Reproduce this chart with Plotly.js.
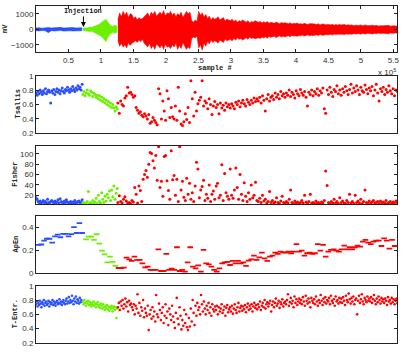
<!DOCTYPE html>
<html>
<head>
<meta charset="utf-8">
<script src="https://cdn.plot.ly/plotly-3.0.1.min.js"></script>
<style>
body { margin: 0; background: #fff; }
#chart { width: 415px; height: 355px; }
</style>
</head>
<body>
<div id="chart"></div>
<script>
// sample ranges of the three phases: baseline, injection, seizure
var phaseStart = [0, 72000, 126000];
var phaseEnd = [71000, 125000, 556000];
// ApEn windows are wider, so they start/end a little inside
var apStart = [4000, 77000, 127000];
var apEnd = [71000, 122000, 552000];

var xTickVals = [50000, 100000, 150000, 200000, 250000, 300000, 350000, 400000, 450000, 500000, 550000];
var xTickText = ['0.5', '1', '1.5', '2', '2.5', '3', '3.5', '4', '4.5', '5', '5.5'];

// raw EEG, upper and lower envelope (mV)
var sigBlueHi = [80, 100, 70, 90, 110, 80, 100, 90, 120, 80, 100, 90, 110, 85, 100, 95];
var sigBlueLo = [-90, -110, -80, -100, -220, -90, -110, -100, -80, -120, -90, -100, -110, -85, -100, -90];
var sigGreenHi = [60, 100, 80, 150, 120, 200, 250, 300, 400, 500, 650, 450, 250, 180, 250, 200];
var sigGreenLo = [-70, -100, -90, -150, -130, -200, -260, -350, -450, -600, -800, -500, -300, -200, -250, -200];
var sigRedHi = [
    600, 1050, 800, 1150, 900, 1100, 750, 1000,
    950, 700, 800, 600, 750, 650, 700, 800,
    900, 1050, 800, 1100, 950, 1150, 850, 1000,
    1100, 950, 1200, 850, 1050, 1000, 1150, 900,
    1050, 800, 1000, 900, 1100, 750, 950, 1150,
    1000, 1100, 550, 450, 600, 500, 1150, 900,
    1050, 800, 950, 700, 850, 600, 750, 650,
    700, 800, 600, 650, 750, 550, 650, 600,
    550, 650, 500, 600, 450, 550, 500, 600,
    500, 450, 550, 400, 500, 450, 550, 480,
    450, 500, 400, 480, 420, 500, 380, 450,
    420, 380, 460, 400, 350, 430, 390, 420,
    400, 350, 420, 330, 380, 360, 400, 340,
    360, 320, 380, 340, 300, 360, 330, 350,
    330, 300, 350, 280, 320, 340, 290, 310,
    300, 280, 320, 260, 300, 270, 310, 280,
    280, 300, 250, 290, 260, 280, 240, 270,
    260, 240, 280, 230, 250, 270, 220, 250,
    240, 260, 220, 250, 210, 240, 230, 220,
    230, 210, 250, 200, 230, 220, 210, 200];
var sigRedLo = [
    -700, -1100, -900, -1150, -1000, -1200, -850, -1050,
    -900, -800, -750, -850, -700, -800, -650, -900,
    -1000, -1150, -900, -1250, -1050, -1300, -950, -1100,
    -1200, -1000, -1300, -950, -1150, -1100, -1250, -1000,
    -1150, -900, -1300, -1050, -1250, -850, -1100, -1300,
    -1150, -1250, -600, -500, -550, -450, -1200, -1000,
    -1350, -900, -1100, -800, -950, -700, -850, -750,
    -800, -900, -700, -750, -850, -650, -750, -700,
    -650, -750, -600, -700, -550, -650, -600, -700,
    -600, -550, -650, -500, -600, -550, -620, -560,
    -550, -600, -500, -560, -480, -580, -450, -520,
    -500, -450, -540, -460, -420, -500, -450, -480,
    -460, -420, -480, -400, -440, -420, -460, -400,
    -420, -380, -440, -400, -360, -420, -390, -410,
    -380, -360, -400, -340, -370, -390, -350, -360,
    -350, -330, -370, -310, -340, -320, -350, -330,
    -320, -340, -300, -330, -300, -320, -290, -310,
    -300, -280, -320, -270, -290, -310, -260, -290,
    -280, -300, -260, -290, -250, -280, -270, -260,
    -270, -250, -290, -240, -270, -260, -250, -240];

// Tsallis entropy
var tsBlue = [0.76, 0.73, 0.78, 0.75, 0.80, 0.77, 0.74, 0.79, 0.76, 0.82, 0.75, 0.78, 0.80, 0.77, 0.62,
    0.79, 0.76, 0.81, 0.74, 0.78, 0.82, 0.77, 0.80, 0.75, 0.79, 0.83, 0.78, 0.76, 0.81, 0.79,
    0.84, 0.80, 0.77, 0.82, 0.79, 0.85, 0.81, 0.78, 0.83, 0.80, 0.86, 0.82, 0.84, 0.80, 0.88];
var tsGreen = [0.74, 0.78, 0.72, 0.76, 0.80, 0.75, 0.73, 0.79, 0.77, 0.71, 0.76, 0.74, 0.70, 0.73, 0.68,
    0.72, 0.66, 0.70, 0.64, 0.68, 0.62, 0.66, 0.60, 0.64, 0.58, 0.62, 0.56, 0.60, 0.55, 0.51, 0.57, 0.54];
var tsRed = [0.62, 0.48, 0.65, 0.60, 0.58, 0.69, 0.72, 0.84, 0.76, 0.77,
    0.74, 0.70, 0.72, 0.56, 0.52, 0.48, 0.50, 0.45, 0.43, 0.47,
    0.44, 0.40, 0.46, 0.34, 0.36, 0.42, 0.38, 0.35, 0.32, 0.82,
    0.75, 0.40, 0.65, 0.51, 0.38, 0.79, 0.68, 0.42, 0.56, 0.43,
    0.40, 0.58, 0.38, 0.84, 0.51, 0.33, 0.31, 0.36, 0.47, 0.39,
    0.56, 0.35, 0.93, 0.68, 0.44, 0.77, 0.51, 0.61, 0.66, 0.70,
    0.93, 0.58, 0.65, 0.62, 0.54, 0.68, 0.60, 0.46, 0.58, 0.64,
    0.56, 0.60, 0.47, 0.62, 0.55, 0.59, 0.52, 0.62, 0.57, 0.60,
    0.55, 0.61, 0.58, 0.54, 0.63, 0.60, 0.65, 0.57, 0.62, 0.66,
    0.61, 0.58, 0.67, 0.63, 0.60, 0.66, 0.62, 0.69, 0.64, 0.68,
    0.65, 0.70, 0.62, 0.72, 0.66, 0.51, 0.68, 0.74, 0.65, 0.70,
    0.72, 0.67, 0.76, 0.70, 0.74, 0.68, 0.78, 0.72, 0.75, 0.70,
    0.76, 0.73, 0.80, 0.71, 0.77, 0.74, 0.69, 0.79, 0.75, 0.72,
    0.81, 0.76, 0.73, 0.78, 0.70, 0.58, 0.77, 0.74, 0.80, 0.72,
    0.78, 0.75, 0.82, 0.73, 0.79, 0.76, 0.83, 0.54, 0.48, 0.80,
    0.74, 0.84, 0.77, 0.71, 0.81, 0.78, 0.86, 0.75, 0.80, 0.73,
    0.82, 0.77, 0.85, 0.79, 0.74, 0.81, 0.88, 0.76, 0.83, 0.78,
    0.86, 0.80, 0.74, 0.84, 0.79, 0.77, 0.87, 0.81, 0.75, 0.83,
    0.79, 0.85, 0.72, 0.80, 0.88, 0.76, 0.65, 0.82, 0.78, 0.84,
    0.74, 0.81, 0.77, 0.86, 0.79, 0.75, 0.82, 0.72, 0.80, 0.78];

// Fisher information
var fiBlue = [15, 12, 8, 6, 9, 5, 7, 10, 6, 8, 5, 12, 6, 5, 8, 10, 7, 5, 9, 6, 7, 11, 5, 13, 8,
    6, 5, 9, 6, 11, 7, 6, 5, 8, 5, 7, 6, 10, 5, 6, 8, 9, 5, 7, 11];
var fiGreen = [4, 6, 3, 5, 8, 27, 4, 6, 3, 10, 5, 7, 14, 4, 20, 8, 5, 25, 12, 6, 18, 9, 22, 15,
    28, 10, 30, 17, 38, 12, 24, 33];
var fiRed = [6, 19, 8, 5, 12, 17, 9, 5, 6, 4,
    10, 7, 35, 22, 5, 38, 29, 8, 51, 60,
    68, 55, 80, 103, 101, 87, 73, 97, 49, 114,
    35, 47, 18, 95, 97, 48, 29, 12, 106, 50,
    58, 20, 51, 8, 114, 30, 47, 16, 10, 53,
    22, 43, 12, 25, 8, 38, 84, 71, 15, 30,
    37, 49, 10, 22, 14, 40, 8, 22, 28, 12,
    38, 43, 15, 20, 79, 10, 62, 25, 18, 12,
    71, 20, 14, 30, 73, 35, 12, 60, 22, 10,
    44, 18, 8, 25, 12, 40, 15, 20, 45, 10,
    8, 14, 6, 20, 9, 12, 5, 8, 27, 6,
    10, 5, 7, 15, 6, 4, 9, 18, 6, 5,
    8, 5, 12, 30, 6, 4, 9, 5, 7, 4,
    6, 10, 5, 20, 7, 4, 8, 22, 5, 6,
    4, 9, 5, 6, 4, 7, 5, 10, 67, 39,
    6, 4, 8, 5, 12, 5, 8, 4, 15, 6,
    9, 5, 4, 10, 6, 22, 5, 8, 4, 20,
    6, 9, 5, 12, 4, 8, 30, 6, 5, 9,
    4, 7, 10, 5, 6, 8, 4, 9, 5, 7,
    5, 10, 4, 6, 8, 4, 7, 5, 9, 6];

// approximate entropy
var apBlue = [0.246, 0.25, 0.284, 0.30, 0.30, 0.266, 0.32, 0.336, 0.313, 0.342, 0.342, 0.32, 0.34,
    0.40, 0.35, 0.435, 0.35];
var apGreen = [0.295, 0.319, 0.319, 0.29, 0.339, 0.258, 0.197, 0.165, 0.095, 0.145, 0.10, 0.064];
var apRed = [0.046, 0.046, 0.049, 0.136, 0.121, 0.107, 0.145, 0.116, 0.116, 0.087,
    0.052, 0.058, 0.029, 0.029, 0.029, 0.208, 0.020, 0.020, 0.168, 0.029,
    0.040, 0.029, 0.226, 0.020, 0.029, 0.014, 0.095, 0.226, 0.058, 0.043,
    0.069, 0.014, 0.203, 0.087, 0.078, 0.058, 0.029, 0.014, 0.043, 0.087,
    0.095, 0.100, 0.072, 0.107, 0.087, 0.107, 0.087, 0.095, 0.064, 0.110,
    0.121, 0.153, 0.116, 0.139, 0.179, 0.130, 0.107, 0.145, 0.153, 0.179,
    0.168, 0.188, 0.182, 0.179, 0.188, 0.174, 0.188, 0.254, 0.188, 0.197,
    0.153, 0.174, 0.179, 0.168, 0.174, 0.254, 0.197, 0.246, 0.145, 0.188,
    0.203, 0.208, 0.197, 0.188, 0.208, 0.240, 0.208, 0.226, 0.208, 0.226,
    0.240, 0.232, 0.275, 0.290, 0.266, 0.254, 0.275, 0.284, 0.284, 0.237,
    0.304, 0.284, 0.214, 0.290, 0.237];

// T-entropy
var teBlue = [0.74, 0.78, 0.71, 0.76, 0.73, 0.79, 0.75, 0.70, 0.77, 0.74, 0.80, 0.72, 0.76, 0.78, 0.73,
    0.75, 0.79, 0.71, 0.77, 0.74, 0.76, 0.80, 0.73, 0.78, 0.75, 0.72, 0.77, 0.79, 0.74, 0.76,
    0.81, 0.75, 0.78, 0.73, 0.77, 0.80, 0.76, 0.74, 0.79, 0.82, 0.75, 0.78, 0.84, 0.76, 0.80,
    0.77, 0.86, 0.79, 0.74, 0.82, 0.78, 0.85, 0.76, 0.81, 0.79, 0.75, 0.83, 0.77, 0.80, 0.78];
var teGreen = [0.78, 0.74, 0.80, 0.76, 0.72, 0.78, 0.75, 0.79, 0.73, 0.77, 0.74, 0.71, 0.76, 0.73, 0.78,
    0.72, 0.75, 0.70, 0.74, 0.77, 0.71, 0.73, 0.69, 0.75, 0.72, 0.68, 0.74, 0.70, 0.66, 0.72,
    0.69, 0.73, 0.67, 0.71, 0.65, 0.70, 0.68, 0.72, 0.64, 0.69, 0.71, 0.66, 0.70, 0.55, 0.68];
var teRed = [0.70, 0.76, 0.66, 0.78, 0.72, 0.80, 0.68, 0.74, 0.82, 0.71, 0.77, 0.64, 0.79, 0.73, 0.75,
    0.70, 0.66, 0.74, 0.60, 0.72, 0.68, 0.88, 0.62, 0.76, 0.58, 0.70, 0.65, 0.80, 0.56, 0.68,
    0.62, 0.58, 0.72, 0.38, 0.60, 0.66, 0.54, 0.70, 0.57, 0.64, 0.50, 0.87, 0.60, 0.56, 0.75,
    0.66, 0.52, 0.62, 0.70, 0.48, 0.58, 0.74, 0.55, 0.64, 0.45, 0.68, 0.60, 0.52, 0.72, 0.57,
    0.49, 0.41, 0.62, 0.83, 0.54, 0.46, 0.70, 0.58, 0.39, 0.52, 0.44, 0.66, 0.48, 0.60, 0.42,
    0.38, 0.55, 0.43, 0.68, 0.50, 0.80, 0.62, 0.45, 0.72, 0.58, 0.76, 0.66, 0.70, 0.60, 0.87,
    0.74, 0.64, 0.78, 0.68, 0.60, 0.72, 0.66, 0.76, 0.62, 0.70, 0.58, 0.74, 0.67, 0.64, 0.71,
    0.66, 0.72, 0.60, 0.70, 0.64, 0.68, 0.74, 0.62, 0.66, 0.71, 0.58, 0.69, 0.73, 0.63, 0.67,
    0.70, 0.64, 0.72, 0.61, 0.68, 0.74, 0.66, 0.62, 0.70, 0.76, 0.64, 0.69, 0.72, 0.65, 0.71,
    0.67, 0.73, 0.63, 0.70, 0.75, 0.66, 0.72, 0.68, 0.74, 0.64, 0.71, 0.76, 0.69, 0.73, 0.67,
    0.74, 0.70, 0.78, 0.66, 0.72, 0.76, 0.70, 0.80, 0.68, 0.74, 0.77, 0.71, 0.75, 0.79, 0.64,
    0.73, 0.78, 0.70, 0.76, 0.82, 0.72, 0.75, 0.79, 0.69, 0.77, 0.74, 0.81, 0.71, 0.76, 0.78,
    0.74, 0.80, 0.88, 0.72, 0.77, 0.83, 0.75, 0.79, 0.70, 0.85, 0.76, 0.81, 0.73, 0.78, 0.82,
    0.76, 0.80, 0.74, 0.84, 0.78, 0.72, 0.86, 0.79, 0.75, 0.82, 0.77, 0.70, 0.83, 0.79, 0.76,
    0.81, 0.74, 0.85, 0.78, 0.72, 0.80, 0.76, 0.87, 0.79, 0.73, 0.82, 0.77, 0.84, 0.75, 0.80,
    0.78, 0.83, 0.74, 0.86, 0.79, 0.76, 0.81, 0.72, 0.85, 0.78, 0.80, 0.75, 0.83, 0.77, 0.82,
    0.76, 0.84, 0.79, 0.73, 0.86, 0.80, 0.77, 0.89, 0.81, 0.75, 0.83, 0.78, 0.85, 0.74, 0.80,
    0.82, 0.60, 0.79, 0.86, 0.76, 0.81, 0.88, 0.78, 0.74, 0.83, 0.80, 0.77, 0.85, 0.79, 0.82,
    0.78, 0.84, 0.76, 0.81, 0.87, 0.79, 0.74, 0.82, 0.77, 0.85, 0.80, 0.75, 0.83, 0.78, 0.81,
    0.76, 0.82, 0.79, 0.73, 0.84, 0.78, 0.80, 0.75, 0.83, 0.77, 0.81, 0.74, 0.79, 0.82, 0.76];

var colors = ['#2a4fff', '#6cf000', '#ff0000'];

// page rows (top, bottom px) of the five panels
var rows = [[6, 52], [75.7, 133.3], [145.7, 204], [215.7, 273.3], [285.7, 343]];
var mTop = 6, mBot = 12, H = 355, W = 415, mLeft = 36, mRight = 18;
var plotH = H - mTop - mBot;

function spread(a, b, n) {
    var out = [];
    for (var i = 0; i < n; i++) out.push(n > 1 ? a + (b - a) * i / (n - 1) : a);
    return out;
}
function px2paperX(px) { return (px - mLeft) / (W - mLeft - mRight); }
function px2paperY(py) { return (H - mBot - py) / plotH; }

var traces = [];

// top panel: raw signal drawn as filled envelopes
var sigHi = [sigBlueHi, sigGreenHi, sigRedHi];
var sigLo = [sigBlueLo, sigGreenLo, sigRedLo];
for (var k = 0; k < 3; k++) {
    var xs = spread(phaseStart[k], phaseEnd[k], sigHi[k].length);
    traces.push({x: xs, y: sigLo[k], type: 'scatter', mode: 'lines',
        line: {color: colors[k], width: 0.6}, xaxis: 'x', yaxis: 'y', hoverinfo: 'skip'});
    traces.push({x: xs, y: sigHi[k], type: 'scatter', mode: 'lines', fill: 'tonexty',
        fillcolor: colors[k], line: {color: colors[k], width: 0.6}, xaxis: 'x', yaxis: 'y', hoverinfo: 'skip'});
}

function addDots(series, starts, ends, axis, msize) {
    for (var k = 0; k < 3; k++) {
        traces.push({
            x: spread(starts[k], ends[k], series[k].length),
            y: series[k],
            type: 'scatter', mode: 'markers',
            marker: {color: colors[k], size: msize},
            xaxis: 'x' + axis, yaxis: 'y' + axis
        });
    }
}
addDots([tsBlue, tsGreen, tsRed], phaseStart, phaseEnd, 2, 3);
addDots([fiBlue, fiGreen, fiRed], phaseStart, phaseEnd, 3, 3);
// ApEn uses short horizontal dashes
for (var k = 0; k < 3; k++) {
    var ser = [apBlue, apGreen, apRed][k];
    traces.push({
        x: spread(apStart[k], apEnd[k], ser.length), y: ser,
        type: 'scatter', mode: 'markers',
        marker: {symbol: 'line-ew', size: 4, line: {color: colors[k], width: 1.8}},
        xaxis: 'x4', yaxis: 'y4'
    });
}
addDots([teBlue, teGreen, teRed], phaseStart, phaseEnd, 5, 2.6);

var tickFont = {family: 'Liberation Sans, Arial, sans-serif', size: 8, color: '#333'};
var labFont = {family: 'Liberation Mono, monospace', size: 7, color: '#222', weight: 'bold'};

var layout = {
    width: W, height: H,
    margin: {l: mLeft, r: mRight, t: mTop, b: mBot},
    paper_bgcolor: '#fff', plot_bgcolor: '#fff',
    showlegend: false,
    hovermode: false,
    annotations: []
};

var yRanges = [[-1470, 1500], [0.2, 1], [3, 116], [0, 0.5], [0.2, 1]];
var yTicks = [[-1000, 0, 1000], [0.2, 0.4, 0.6, 0.8, 1], [20, 40, 60, 80, 100], [0, 0.2, 0.4], [0.2, 0.4, 0.6, 0.8, 1]];
var yTickText = [['\u22121000', '0', '1000'], ['0.2', '0.4', '0.6', '0.8', '1'], ['20', '40', '60', '80', '100'],
    ['0', '0.2', '0.4'], ['0.2', '0.4', '0.6', '0.8', '1']];
var yNames = ['mV', 'Tsallis', 'Fisher', 'ApEn', 'T-Entr.'];
var yNameX = [5, 17, 15, 15, 15];

for (var p = 0; p < 5; p++) {
    var sfx = p === 0 ? '' : String(p + 1);
    var dom = [px2paperY(rows[p][1]), px2paperY(rows[p][0])];
    layout['xaxis' + sfx] = {
        range: [0, 555500], anchor: 'y' + sfx,
        showgrid: false, zeroline: false,
        showline: true, mirror: p === 0 ? 'ticks' : true, linecolor: '#222', linewidth: 1,
        ticks: p === 0 ? 'inside' : '', ticklen: 3, tickcolor: '#222',
        tickvals: xTickVals, ticktext: xTickText,
        showticklabels: p === 0, tickfont: tickFont
    };
    layout['yaxis' + sfx] = {
        domain: dom, range: yRanges[p], anchor: 'x' + sfx,
        showgrid: false, zeroline: false,
        showline: true, mirror: 'ticks', linecolor: '#222', linewidth: 1,
        ticks: 'inside', ticklen: 3, tickcolor: '#222',
        tickvals: yTicks[p], ticktext: yTickText[p], tickfont: tickFont
    };
    layout.annotations.push({
        xref: 'paper', yref: 'paper',
        x: px2paperX(yNameX[p]), y: (dom[0] + dom[1]) / 2,
        text: yNames[p], textangle: -90, showarrow: false,
        xanchor: 'center', yanchor: 'middle', font: labFont
    });
}

layout.annotations.push({
    xref: 'paper', yref: 'paper', x: px2paperX(215), y: px2paperY(68),
    text: 'sample #', showarrow: false, xanchor: 'center', yanchor: 'middle', font: labFont
});
layout.annotations.push({
    xref: 'paper', yref: 'paper', x: px2paperX(398), y: px2paperY(72),
    text: 'x 10<sup>5</sup>', showarrow: false, xanchor: 'right', yanchor: 'middle', font: tickFont
});
layout.annotations.push({
    xref: 'x', yref: 'y', x: 73000, y: 150,
    text: 'Injection', showarrow: true, ax: 0, ay: -16,
    arrowhead: 2, arrowsize: 1, arrowwidth: 1, arrowcolor: '#000',
    font: labFont
});

Plotly.newPlot('chart', traces, layout, {displayModeBar: false, staticPlot: true});
</script>
</body>
</html>
